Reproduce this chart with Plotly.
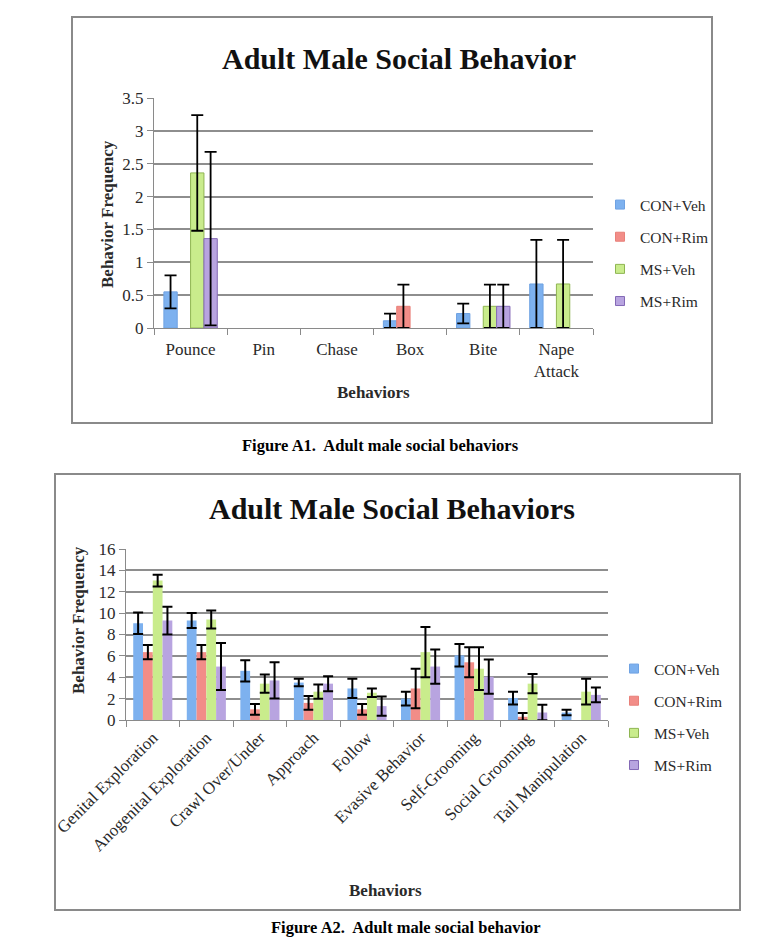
import plotly.graph_objects as go

# ---------------- data ----------------
groups = ["CON+Veh", "CON+Rim", "MS+Veh", "MS+Rim"]

cats1 = ["Pounce", "Pin", "Chase", "Box", "Bite", "Nape<br>Attack"]
con_veh1 = [0.55, 0, 0, 0.11, 0.22, 0.67]
con_veh1_err = [0.25, None, None, 0.11, 0.15, 0.67]
con_rim1 = [0, 0, 0, 0.33, 0, 0]
con_rim1_err = [None, None, None, 0.33, None, None]
ms_veh1 = [2.36, 0, 0, 0, 0.33, 0.67]
ms_veh1_err = [0.88, None, None, None, 0.33, 0.67]
ms_rim1 = [1.36, 0, 0, 0, 0.33, 0]
ms_rim1_err = [1.32, None, None, None, 0.33, None]

cats2 = ["Genital Exploration", "Anogenital Exploration", "Crawl Over/Under",
         "Approach", "Follow", "Evasive Behavior", "Self-Grooming",
         "Social Grooming", "Tail Manipulation"]
con_veh2 = [9.05, 9.3, 4.6, 3.5, 2.95, 2.0, 6.05, 2.05, 0.7]
con_veh2_err = [1.0, 0.7, 1.0, 0.35, 0.9, 0.65, 1.05, 0.6, 0.25]
con_rim2 = [6.35, 6.35, 1.0, 1.6, 1.0, 2.95, 5.4, 0.3, 0]
con_rim2_err = [0.67, 0.67, 0.5, 0.65, 0.5, 1.85, 1.4, 0.35, None]
ms_veh2 = [13.05, 9.4, 3.4, 2.65, 2.55, 6.35, 4.8, 3.4, 2.65]
ms_veh2_err = [0.55, 0.85, 0.85, 0.67, 0.4, 2.35, 2.0, 0.9, 1.2]
ms_rim2 = [9.3, 5.0, 3.7, 3.4, 1.3, 5.0, 4.05, 0.7, 2.35]
ms_rim2_err = [1.3, 2.2, 1.7, 0.7, 0.9, 1.6, 1.6, 0.72, 0.7]

yticks1 = [0, 0.5, 1, 1.5, 2, 2.5, 3, 3.5]
yticks1_text = ["0", "0.5", "1", "1.5", "2", "2.5", "3", "3.5"]
yticks2 = [0, 2, 4, 6, 8, 10, 12, 14, 16]

# ---------------- styling ----------------
W, H = 760, 946
SERIF = "Liberation Serif, Times New Roman, serif"
colors = ["#7db1ef", "#f28d88", "#c9ec8c", "#b8a4e0"]
edges1 = ["#6fa2e2", "#e88079", "#8fb552", "#8469b6"]
GRID = "#8e8e8e"
AXIS = "#8a8a8a"
TXT = "#2a2a2a"


def px(x):
    return x / W


def py(y):
    return 1 - y / H


def err_arr(errs):
    # missing error bars -> "NaN" so plotly.js skips them entirely
    return ["NaN" if e is None else e for e in errs]


vals1 = [con_veh1, con_rim1, ms_veh1, ms_rim1]
errs1 = [con_veh1_err, con_rim1_err, ms_veh1_err, ms_rim1_err]
vals2 = [con_veh2, con_rim2, ms_veh2, ms_rim2]
errs2 = [con_veh2_err, con_rim2_err, ms_veh2_err, ms_rim2_err]

fig = go.Figure()
for i, g in enumerate(groups):
    fig.add_trace(go.Bar(
        x=cats1, y=vals1[i], name=g, showlegend=False,
        marker=dict(color=colors[i],
                    line=dict(color=edges1[i],
                              width=[1 if v > 0 else 0 for v in vals1[i]])),
        error_y=dict(type="data", array=err_arr(errs1[i]), color="black",
                     thickness=1.8, width=6),
        xaxis="x", yaxis="y",
    ))
for i, g in enumerate(groups):
    fig.add_trace(go.Bar(
        x=cats2, y=vals2[i], name=g, showlegend=False,
        marker=dict(color=colors[i], line=dict(width=0)),
        error_y=dict(type="data", array=err_arr(errs2[i]), color="black",
                     thickness=2, width=5),
        xaxis="x2", yaxis="y2",
    ))

# small square legend keys (legend-only entries, no data points)
for lg, xa, ya in (("legend", "x", "y"), ("legend2", "x2", "y2")):
    for i, g in enumerate(groups):
        fig.add_trace(go.Scatter(
            x=[None], y=[None], mode="markers", name=g,
            marker=dict(symbol="square", size=9, color=colors[i],
                        line=dict(color=edges1[i], width=1)),
            xaxis=xa, yaxis=ya, legend=lg, legendgroup="%s%d" % (lg, i),
            hoverinfo="skip",
        ))

axis_common = dict(showline=True, linecolor=AXIS, linewidth=1.2,
                   ticks="outside", tickcolor=AXIS, ticklen=6,
                   tickfont=dict(family=SERIF, size=17, color=TXT),
                   fixedrange=True, automargin=False)

fig.update_layout(
    width=W, height=H,
    margin=dict(l=0, r=0, t=0, b=0, autoexpand=False),
    paper_bgcolor="white", plot_bgcolor="white",
    barmode="group", bargap=0.27, bargroupgap=0,
    font=dict(family=SERIF, color=TXT),
    xaxis=dict(domain=[px(154), px(593)], anchor="y", tickson="boundaries",
               showgrid=False, ticklabelstandoff=5, **axis_common),
    yaxis=dict(domain=[py(328), py(98)], anchor="x", range=[0, 3.5],
               tickvals=yticks1, ticktext=yticks1_text, showgrid=True,
               gridcolor=GRID, gridwidth=1.5, zeroline=False, **axis_common),
    xaxis2=dict(domain=[px(126), px(608)], anchor="y2", tickson="boundaries",
                tickangle=-45, showgrid=False, **axis_common),
    yaxis2=dict(domain=[py(720), py(549)], anchor="x2", range=[0, 16],
                tickvals=yticks2, showgrid=True, gridcolor=GRID,
                gridwidth=1.5, zeroline=False, **axis_common),
    legend=dict(x=px(600), y=py(188), xanchor="left", yanchor="top",
                font=dict(family=SERIF, size=15.5, color=TXT),
                tracegroupgap=9, itemwidth=30, bgcolor="rgba(0,0,0,0)"),
    legend2=dict(x=px(614), y=py(652), xanchor="left", yanchor="top",
                 font=dict(family=SERIF, size=15.5, color=TXT),
                 tracegroupgap=9, itemwidth=30, bgcolor="rgba(0,0,0,0)"),
    shapes=[
        dict(type="rect", xref="paper", yref="paper",
             x0=px(72), x1=px(712), y0=py(423), y1=py(17),
             line=dict(color="#8a8a8a", width=2), layer="below"),
        dict(type="rect", xref="paper", yref="paper",
             x0=px(55), x1=px(740), y0=py(910), y1=py(474),
             line=dict(color="#8a8a8a", width=2), layer="below"),
    ],
)

ann = dict(xref="paper", yref="paper", showarrow=False,
           xanchor="center", yanchor="middle")
fig.add_annotation(x=px(399), y=py(58), text="<b>Adult Male Social Behavior</b>",
                   font=dict(family=SERIF, size=30, color="#111"), **ann)
fig.add_annotation(x=px(107), y=py(214), text="<b>Behavior Frequency</b>",
                   textangle=-90, font=dict(family=SERIF, size=17, color=TXT), **ann)
fig.add_annotation(x=px(373), y=py(393), text="<b>Behaviors</b>",
                   font=dict(family=SERIF, size=17, color=TXT), **ann)
fig.add_annotation(x=px(380), y=py(445),
                   text="<b>Figure A1.&nbsp; Adult male social behaviors</b>",
                   font=dict(family=SERIF, size=16.5, color="#000"), **ann)
fig.add_annotation(x=px(392), y=py(508), text="<b>Adult Male Social Behaviors</b>",
                   font=dict(family=SERIF, size=30, color="#111"), **ann)
fig.add_annotation(x=px(78), y=py(620), text="<b>Behavior Frequency</b>",
                   textangle=-90, font=dict(family=SERIF, size=17, color=TXT), **ann)
fig.add_annotation(x=px(385), y=py(890), text="<b>Behaviors</b>",
                   font=dict(family=SERIF, size=17, color=TXT), **ann)
fig.add_annotation(x=px(406), y=py(927),
                   text="<b>Figure A2.&nbsp; Adult male social behavior</b>",
                   font=dict(family=SERIF, size=16.5, color="#000"), **ann)

fig.write_html(
    "out.html",
    config={"displayModeBar": False},
    post_script="document.body.style.margin='0';document.body.style.padding='0';",
)
